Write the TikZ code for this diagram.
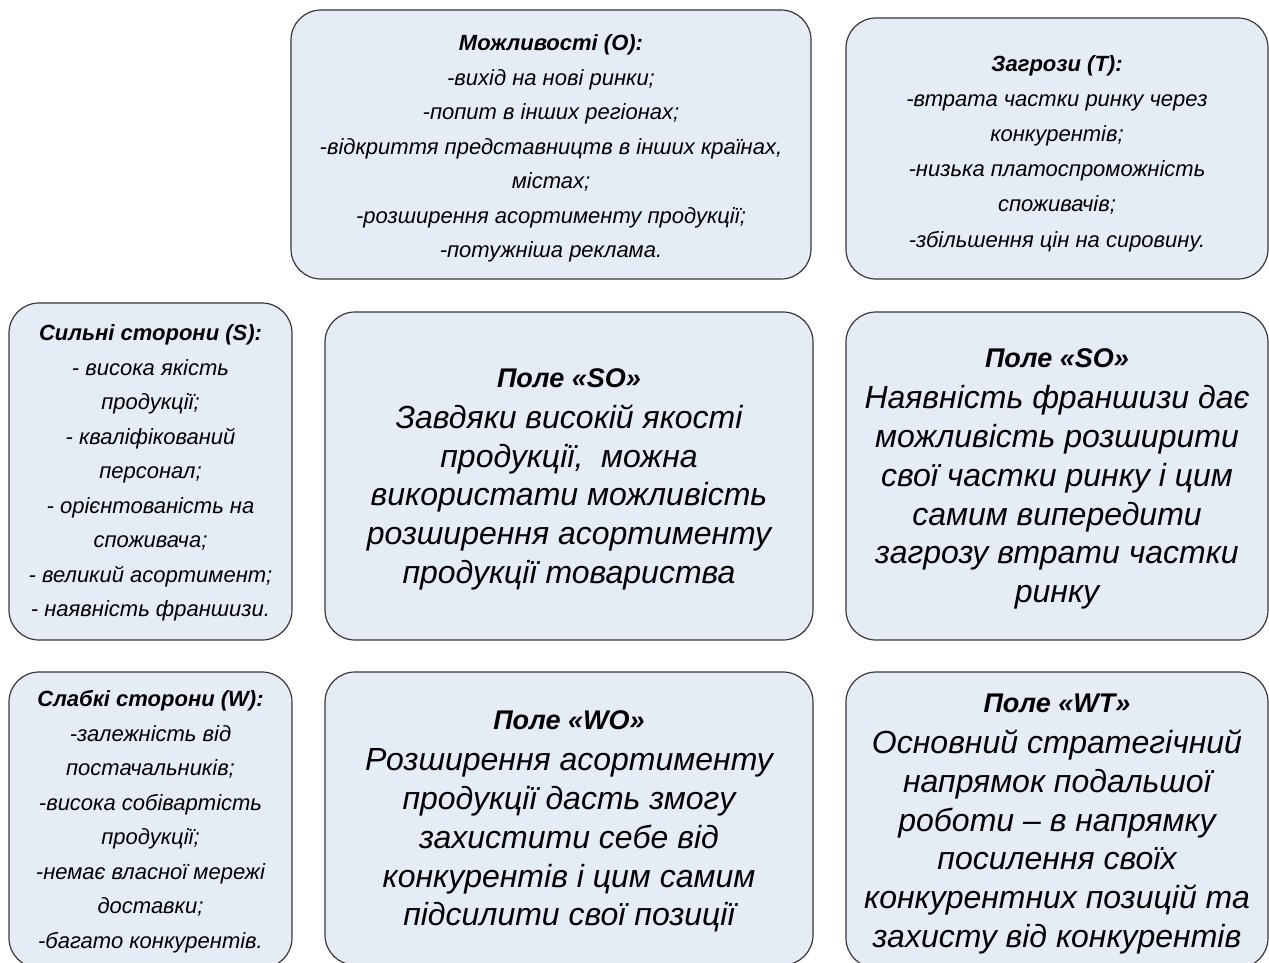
\documentclass[tikz,border=0pt]{standalone}
\usepackage{fontspec}
\setmainfont{Liberation Sans}
\definecolor{boxfill}{HTML}{E6ECF6}
\definecolor{boxline}{HTML}{383838}
\tikzset{
  box/.style={draw=boxline, fill=boxfill, line width=1.2pt, rounded corners=30pt,
    rectangle, inner sep=0pt},
  txt/.style={inner sep=0pt, align=center, text=black},
  smalltxt/.style={txt, font=\fontsize{22}{34.5}\selectfont\itshape},
  bigtxt/.style={txt, font=\fontsize{32}{38.7}\selectfont\itshape},
}
\newcommand{\bigtitle}[1]{{\fontsize{27}{38.7}\selectfont\bfseries #1}\\[2.5pt]}
\begin{document}
\begin{tikzpicture}[x=1pt,y=-1pt]
\useasboundingbox (0,0) rectangle (1269,962);
\clip (0,0) rectangle (1269,962);
% boxes
\node[box, minimum width=520pt, minimum height=269pt] (o) at (551,144.5) {};
\node[box, minimum width=422pt, minimum height=261pt] (t) at (1057,148.5) {};
\node[box, minimum width=283pt, minimum height=337pt] (s) at (150.5,471.5) {};
\node[box, minimum width=488pt, minimum height=328pt] (so1) at (569,476) {};
\node[box, minimum width=422pt, minimum height=328pt] (so2) at (1057,476) {};
\node[box, minimum width=283pt, minimum height=296pt] (w) at (150.5,820) {};
\node[box, minimum width=488pt, minimum height=293pt] (wo) at (569,818.5) {};
\node[box, minimum width=422pt, minimum height=296pt] (wt) at (1057,820) {};
% texts
\node[smalltxt] (otext) at ([yshift=-4pt]o.center)
 {\textbf{Можливості (O):}\\-вихід на нові ринки;\\-попит в інших регіонах;\\-відкриття представництв в інших країнах,\\містах;\\-розширення асортименту продукції;\\-потужніша реклама.};
\node[smalltxt, font=\fontsize{22}{35.2}\selectfont\itshape] (ttext) at ([yshift=-5pt]t.center)
 {\textbf{Загрози (T):}\\-втрата частки ринку через\\конкурентів;\\-низька платоспроможність\\споживачів;\\-збільшення цін на сировину.};
\node[smalltxt] (stext) at ([yshift=-1.5pt]s.center)
 {\textbf{Сильні сторони (S):}\\- висока якість\\продукції;\\- кваліфікований\\персонал;\\- орієнтованість на\\споживача;\\- великий асортимент;\\- наявність франшизи.};
\node[bigtxt] (so1text) at ([yshift=-3pt]so1.center)
 {\bigtitle{Поле «SO»}Завдяки високій якості\\продукції,\ \ можна\\використати можливість\\розширення асортименту\\продукції товариства};
\node[bigtxt] (so2text) at ([yshift=-3pt]so2.center)
 {\bigtitle{Поле «SO»}Наявність франшизи дає\\можливість розширити\\свої частки ринку і цим\\самим випередити\\загрозу втрати частки\\ринку};
\node[smalltxt] (wtext) at ([yshift=-1.5pt]w.center)
 {\textbf{Слабкі сторони (W):}\\-залежність від\\постачальників;\\-висока собівартість\\продукції;\\-немає власної мережі\\доставки;\\-багато конкурентів.};
\node[bigtxt] (wotext) at ([yshift=-3pt]wo.center)
 {\bigtitle{Поле «WO»}Розширення асортименту\\продукції дасть змогу\\захистити себе від\\конкурентів і цим самим\\підсилити свої позиції};
\node[bigtxt] (wttext) at ([yshift=-4pt]wt.center)
 {\bigtitle{Поле «WT»}Основний стратегічний\\напрямок подальшої\\роботи – в напрямку\\посилення своїх\\конкурентних позицій та\\захисту від конкурентів};
\end{tikzpicture}
\end{document}
